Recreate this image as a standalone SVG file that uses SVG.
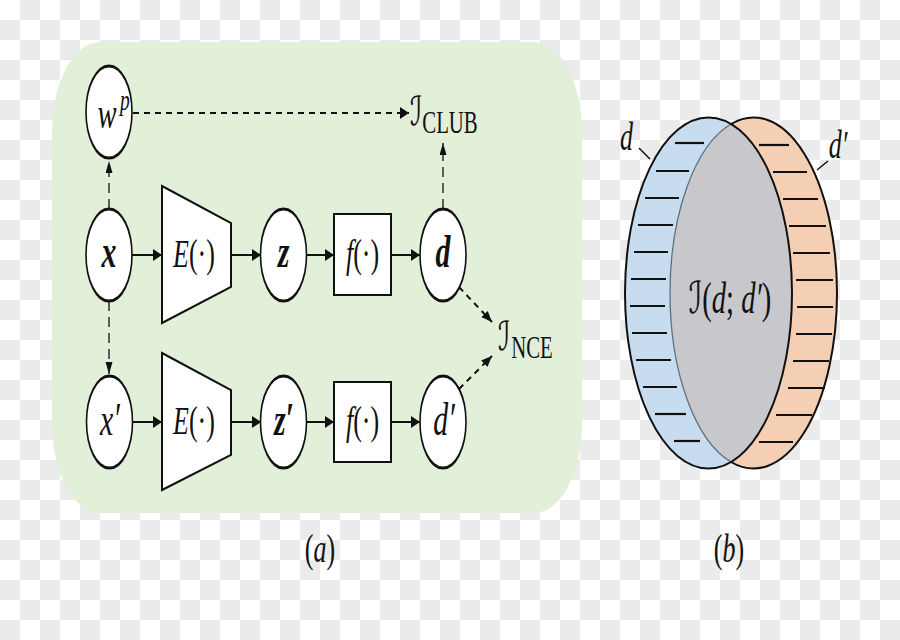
<svg xmlns="http://www.w3.org/2000/svg" width="900" height="640" viewBox="0 0 900 640">
<style>
.t{font-family:"Liberation Serif","DejaVu Serif",serif;fill:#111;text-anchor:middle}
.i{font-style:italic}
.b{font-weight:bold}
.cal{font-family:"DejaVu Serif","DejaVu Sans",serif;font-style:italic}
.node{fill:#fff;stroke:#111;stroke-width:1.6}
.blk{fill:#fff;stroke:#111;stroke-width:2}
.sol{stroke:#111;stroke-width:2;fill:none}
.dh{stroke:#111;stroke-width:2.2;fill:none;stroke-dasharray:6 5}
.dv{stroke:#111;stroke-width:1.3;fill:none;stroke-dasharray:10 6}
.dd{stroke:#111;stroke-width:2;fill:none;stroke-dasharray:6 5}
.hl{stroke:#111;stroke-width:2.2}
.sq{fill:#ebebeb}
</style>
<defs>
<pattern id="cb" x="0" y="0" width="40" height="40" patternUnits="userSpaceOnUse">
<rect x="0" y="0" width="40" height="40" fill="#ffffff"/>
<rect class="sq" x="20" y="0" width="20" height="20"/>
<rect class="sq" x="0" y="20" width="20" height="20"/>
</pattern>
<marker id="ah" markerUnits="userSpaceOnUse" markerWidth="10" markerHeight="12" refX="9" refY="6" orient="auto"><path d="M0,0 L9,6 L0,12 z" fill="#111"/></marker>
<marker id="av" markerUnits="userSpaceOnUse" markerWidth="13" markerHeight="8" refX="12" refY="3.5" orient="auto"><path d="M0,0 L12,3.5 L0,7 z" fill="#111"/></marker>
<marker id="ad" markerUnits="userSpaceOnUse" markerWidth="12" markerHeight="10" refX="11" refY="4.5" orient="auto"><path d="M0,0 L11,4.5 L0,9 z" fill="#111"/></marker>
<clipPath id="blueclip"><ellipse cx="708.5" cy="293" rx="83.5" ry="175.5"/></clipPath>
</defs>
<rect x="0" y="0" width="900" height="640" fill="url(#cb)"/>
<rect x="52" y="42" width="530" height="471" rx="48" ry="90" fill="#e2efd9"/>

<g id="connectors">
<path class="sol" d="M132,255 L162,255" marker-end="url(#ah)"/>
<path class="sol" d="M231,255 L261,255" marker-end="url(#ah)"/>
<path class="sol" d="M306,255 L334,255" marker-end="url(#ah)"/>
<path class="sol" d="M391,255 L420,255" marker-end="url(#ah)"/>
<path class="sol" d="M132,422 L162,422" marker-end="url(#ah)"/>
<path class="sol" d="M231,422 L261,422" marker-end="url(#ah)"/>
<path class="sol" d="M306,422 L334,422" marker-end="url(#ah)"/>
<path class="sol" d="M391,422 L420,422" marker-end="url(#ah)"/>
<path class="dh" d="M133,113 L409,113" marker-end="url(#ah)"/>
<path class="dv" d="M109,209 L109,161" marker-end="url(#av)"/>
<path class="dv" d="M109,301 L109,374" marker-end="url(#av)"/>
<path class="dv" d="M443,209 L443,143" marker-end="url(#av)"/>
<path class="dd" d="M459,287 L492,322" marker-end="url(#ad)"/>
<path class="dd" d="M459,389 L492,356" marker-end="url(#ad)"/>
</g>

<g id="node-wp">
<circle class="node" r="23" transform="translate(109 112) scale(1 2)"/>
<text class="t i" font-size="44" transform="translate(107 128) scale(0.65 1)">w</text>
<text class="t i" font-size="30" transform="translate(125 110) scale(0.65 1)">p</text>
</g>
<g id="node-x">
<circle class="node" r="23" transform="translate(109 255) scale(1 2)"/>
<text class="t i b" font-size="46" transform="translate(109 267) scale(0.65 1)">x</text>
</g>
<g id="node-E">
<polygon class="blk" points="162,186 231,223 231,287 162,323"/>
<text class="t" font-size="40" transform="translate(194 267) scale(0.65 1)"><tspan class="i">E</tspan>(·)</text>
</g>
<g id="node-z">
<circle class="node" r="23" transform="translate(283.5 255) scale(1 2)"/>
<text class="t i b" font-size="46" transform="translate(283.5 267) scale(0.65 1)">z</text>
</g>
<g id="node-f">
<rect class="blk" x="334" y="214" width="57" height="81"/>
<text class="t" font-size="40" transform="translate(362.5 267) scale(0.65 1)"><tspan class="i">f</tspan>(·)</text>
</g>
<g id="node-d">
<circle class="node" r="23" transform="translate(443 255) scale(1 2)"/>
<text class="t i b" font-size="46" transform="translate(443 267) scale(0.65 1)">d</text>
</g>
<g id="node-x2">
<circle class="node" r="23" transform="translate(109.5 422) scale(1 2)"/>
<text class="t i" font-size="46" transform="translate(110 435) scale(0.65 1)">x′</text>
</g>
<g id="node-E2">
<polygon class="blk" points="162,353 231,390 231,455 162,490"/>
<text class="t" font-size="40" transform="translate(194 434) scale(0.65 1)"><tspan class="i">E</tspan>(·)</text>
</g>
<g id="node-z2">
<circle class="node" r="23" transform="translate(283.5 422) scale(1 2)"/>
<text class="t i b" font-size="46" transform="translate(284 435) scale(0.65 1)">z′</text>
</g>
<g id="node-f2">
<rect class="blk" x="334" y="382" width="57" height="80"/>
<text class="t" font-size="40" transform="translate(362.5 434) scale(0.65 1)"><tspan class="i">f</tspan>(·)</text>
</g>
<g id="node-d2">
<circle class="node" r="23" transform="translate(443 422) scale(1 2)"/>
<text class="t i" font-size="46" transform="translate(444 435) scale(0.65 1)">d′</text>
</g>
<g id="node-Iclub">
<text class="t cal" font-size="40" transform="translate(416 125) scale(0.65 1)">ℐ</text>
<text class="t" font-size="32" transform="translate(450 133) scale(0.65 1)">CLUB</text>
</g>
<g id="node-Ince">
<text class="t cal" font-size="40" transform="translate(504 350) scale(0.65 1)">ℐ</text>
<text class="t" font-size="32" transform="translate(532 358) scale(0.65 1)">NCE</text>
</g>

<g id="venn">
<ellipse cx="708.5" cy="293" rx="83.5" ry="175.5" fill="#c8dcef"/>
<ellipse cx="753.5" cy="293" rx="83.5" ry="175.5" fill="#f5cfb3"/>
<ellipse cx="753.5" cy="293" rx="83.5" ry="175.5" fill="#c8c7cc" clip-path="url(#blueclip)"/>
<path d="M731,124 A83.5,175.5 0 0 0 731,462" fill="none" stroke="#5f7080" stroke-width="1.3"/>
<path d="M731,124 A83.5,175.5 0 1 1 731,462" fill="none" stroke="#111" stroke-width="2"/>
<ellipse cx="708.5" cy="293" rx="83.5" ry="175.5" fill="none" stroke="#111" stroke-width="2"/>
<g id="hatch-d">
<line class="hl" x1="675" y1="143" x2="704" y2="143"/>
<line class="hl" x1="656" y1="171" x2="689" y2="171"/>
<line class="hl" x1="645" y1="198" x2="679" y2="198"/>
<line class="hl" x1="638" y1="225" x2="673" y2="225"/>
<line class="hl" x1="634" y1="252" x2="668" y2="252"/>
<line class="hl" x1="631" y1="279" x2="666" y2="279"/>
<line class="hl" x1="630" y1="306" x2="665" y2="306"/>
<line class="hl" x1="632" y1="333" x2="667" y2="333"/>
<line class="hl" x1="636" y1="360" x2="671" y2="360"/>
<line class="hl" x1="643" y1="387" x2="677" y2="387"/>
<line class="hl" x1="655" y1="414" x2="686" y2="414"/>
<line class="hl" x1="674" y1="441" x2="700" y2="441"/>
</g>
<g id="hatch-d2">
<line class="hl" x1="759" y1="145" x2="789" y2="145"/>
<line class="hl" x1="773" y1="172" x2="807" y2="172"/>
<line class="hl" x1="783" y1="199" x2="818" y2="199"/>
<line class="hl" x1="789" y1="226" x2="826" y2="226"/>
<line class="hl" x1="793" y1="253" x2="830" y2="253"/>
<line class="hl" x1="796" y1="280" x2="833" y2="280"/>
<line class="hl" x1="797" y1="307" x2="833" y2="307"/>
<line class="hl" x1="796" y1="334" x2="832" y2="334"/>
<line class="hl" x1="793" y1="361" x2="829" y2="361"/>
<line class="hl" x1="788" y1="388" x2="825" y2="388"/>
<line class="hl" x1="776" y1="415" x2="812" y2="415"/>
<line class="hl" x1="759" y1="442" x2="793" y2="442"/>
</g>
<line x1="639" y1="148" x2="650" y2="159" stroke="#111" stroke-width="1.5"/>
<line x1="828" y1="161" x2="817" y2="170" stroke="#111" stroke-width="1.5"/>
<text class="t i" font-size="40" transform="translate(626.5 150) scale(0.65 1)">d</text>
<text class="t i" font-size="40" transform="translate(838 158) scale(0.65 1)">d′</text>
<text class="t" font-size="44" transform="translate(730 313) scale(0.65 1)"><tspan class="cal">ℐ</tspan>(<tspan class="i">d</tspan>; <tspan class="i">d′</tspan>)</text>
</g>

<text class="t" font-size="40" transform="translate(320 562) scale(0.65 1)">(<tspan class="i">a</tspan>)</text>
<text class="t" font-size="40" transform="translate(729 562) scale(0.65 1)">(<tspan class="i">b</tspan>)</text>
</svg>
